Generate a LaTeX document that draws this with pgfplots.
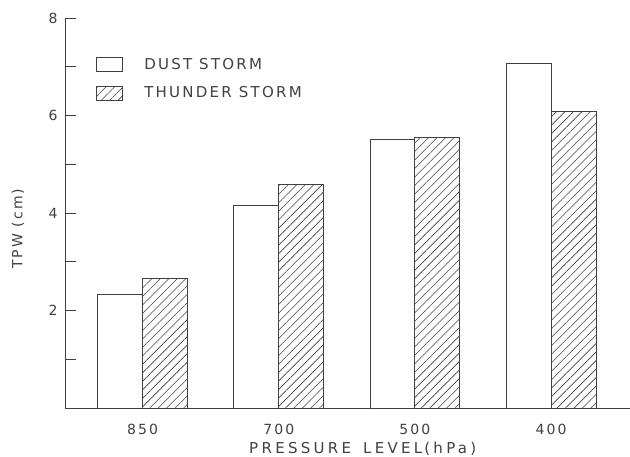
\documentclass[border=0pt]{standalone}
\usepackage{pgfplots}
\pgfplotsset{compat=1.18}
\usepackage{fontspec}
\setmainfont{DejaVu Sans}[LetterSpace=15]
\usetikzlibrary{patterns.meta}
\definecolor{ink}{gray}{0.25}
\begin{document}
\begin{tikzpicture}
\useasboundingbox (-65pt,-48pt) rectangle (565pt,408pt);
\begin{axis}[
  at={(0pt,0pt)}, anchor=south west,
  scale only axis, width=565pt, height=390pt,
  xmin=-0.57, xmax=3.58, ymin=0, ymax=8,
  axis x line=bottom, axis y line=left,
  axis line style={-, line width=0.8pt, ink},
  xtick={0,1,2,3}, xticklabels={850,700,500,400},
  x tick style={draw=none},
  ytick={2,4,6,8}, minor ytick={1,3,5,7},
  tick align=inside, major tick length=11pt, minor tick length=11pt,
  y tick style={line width=0.8pt, ink},
  tick label style={font=\fontsize{14}{16}\selectfont, text=ink, /pgf/number format/assume math mode=true},
  xticklabel style={yshift=-2pt},
  yticklabel style={xshift=-4pt},
  xlabel={PRESSURE\hspace{12pt}LEVEL\hspace{2pt}(hPa)},
  ylabel={TPW (cm)},
  label style={font=\fontsize{14}{16}\selectfont, text=ink},
  xlabel style={font=\fontsize{15}{17}\selectfont\addfontfeature{LetterSpace=22}, at={(axis description cs:0.527,-0.105)}, anchor=center},
  ylabel style={at={(axis description cs:-0.083,0.46)}, anchor=center},
  ybar, bar width=0.33,
  legend style={draw=none, fill=none, at={(axis description cs:0.05,0.908)}, anchor=north west,
    font=\fontsize{15}{17}\selectfont, text=ink, row sep=12pt},
  legend image code/.code={\draw[#1] (0pt,-7pt) rectangle (26pt,7pt); \path (45pt,0pt);},
  legend cell align=left,
]
\addplot[draw=ink, line width=0.8pt, fill=white, bar shift=-0.165]
  coordinates {(0,2.33) (1,4.16) (2,5.51) (3,7.06)};
\addplot[draw=ink, line width=0.8pt, pattern={Lines[angle=45,distance=6pt,line width=0.6pt]}, pattern color=ink, bar shift=0.165]
  coordinates {(0,2.65) (1,4.59) (2,5.55) (3,6.08)};
\legend{DUST STORM, THUNDER STORM}
\end{axis}
\end{tikzpicture}
\end{document}
